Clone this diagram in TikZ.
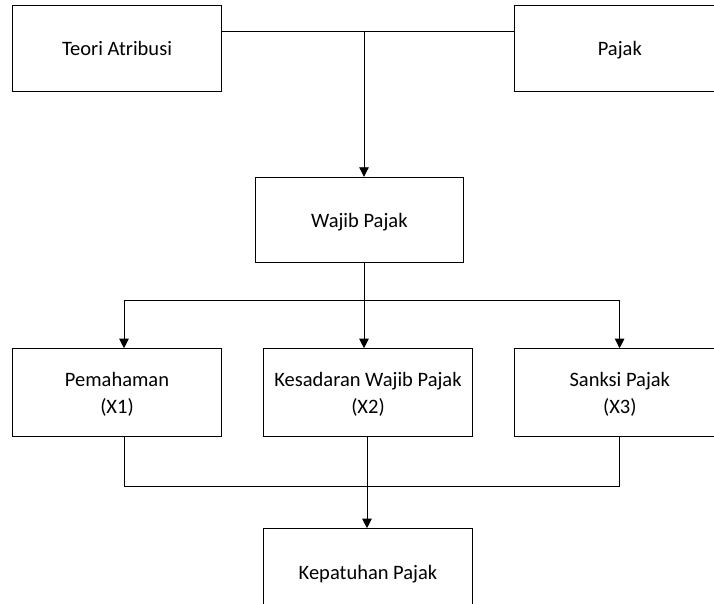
\documentclass[tikz,border=0pt]{standalone}
\usepackage{fontspec}
\setmainfont{Carlito}
\usetikzlibrary{arrows.meta}
\newcommand{\bxs}{\rule[-6pt]{0pt}{26pt}}
\begin{document}
\begin{tikzpicture}[x=1pt,y=-1pt,
  box/.style={draw, line width=0.9pt, minimum width=208.6pt, minimum height=85.5pt, inner sep=0pt,
    font=\fontsize{20.5}{25}\selectfont, align=center},
  conn/.style={line width=0.9pt},
  arr/.style={line width=0.9pt, -{Triangle[length=9.5pt,width=9.5pt]}}]
\useasboundingbox (0,0) rectangle (714,604);
\clip (0,0) rectangle (714,604);
\node[box] (teori) at (117,48.5) {Teori Atribusi\bxs};
\node[box, minimum width=211pt] (pajak) at (619.8,48.5) {Pajak\bxs};
\node[box, minimum width=208.6pt] (wajib) at (359.4,220) {Wajib Pajak\bxs};
\node[box, minimum height=87.7pt] (pem) at (117,392.5) {Pemahaman\bxs\\(X1)\bxs};
\node[box, minimum height=87.7pt] (kes) at (368,392.5) {Kesadaran Wajib Pajak\bxs\\(X2)\bxs};
\node[box, minimum width=211pt, minimum height=87.7pt] (san) at (619.8,392.5) {Sanksi Pajak\bxs\\(X3)\bxs};
\node[box, minimum height=87.7pt] (kep) at (368,572.5) {Kepatuhan Pajak\bxs};
\coordinate (top) at (364,31);
\coordinate (split) at (364,300.7);
\coordinate (splitL) at (124,300.7);
\coordinate (splitR) at (619.6,300.7);
\coordinate (merge) at (367,486);
\coordinate (mergeL) at (124,486);
\coordinate (mergeR) at (619.6,486);
\draw[conn] (teori.east |- top) -- (pajak.west |- top);
\draw[arr] (top) -- (top |- wajib.north);
\draw[conn] (split |- wajib.south) -- (split);
\draw[conn] (splitL) -- (splitR);
\draw[arr] (splitL) -- (splitL |- pem.north);
\draw[arr] (split) -- (split |- kes.north);
\draw[arr] (splitR) -- (splitR |- san.north);
\draw[conn] (mergeL |- pem.south) -- (mergeL) -- (mergeR) -- (mergeR |- san.south);
\draw[conn] (merge |- kes.south) -- (merge);
\draw[arr] (merge) -- (merge |- kep.north);
\end{tikzpicture}
\end{document}
